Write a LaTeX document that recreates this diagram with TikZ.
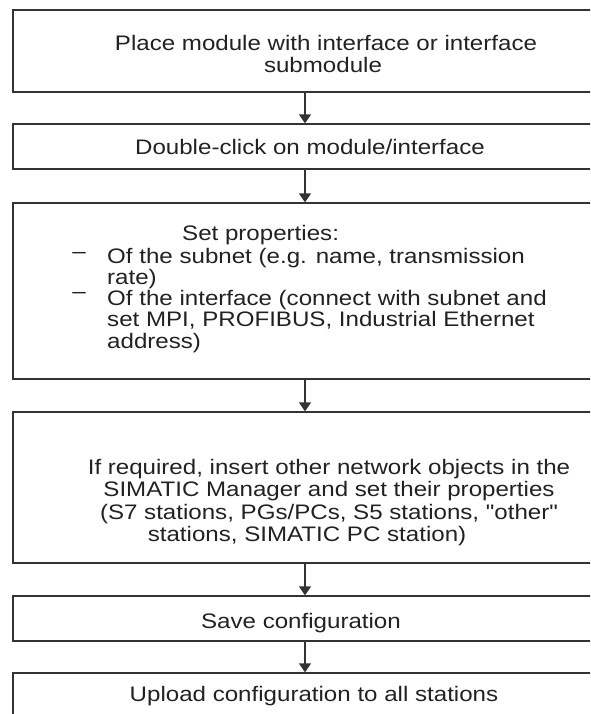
\documentclass[tikz,border=0pt]{standalone}
\usepackage{fontspec}
\setmainfont{Liberation Sans}[Ligatures=TeXOff,FakeStretch=1.148]
\usetikzlibrary{arrows.meta}
\definecolor{ink}{HTML}{222222}
\definecolor{frame}{HTML}{333333}
\begin{document}
\begin{tikzpicture}[x=1pt,y=-1pt,
  box/.style={draw=frame,line width=1.3pt,rectangle,inner sep=0pt,minimum width=590pt},
  txt/.style={inner sep=0pt,text=ink,font=\fontsize{21}{22}\selectfont,anchor=base},
  ltxt/.style={txt,anchor=base west},
  flow/.style={draw=frame,line width=1.4pt,-{Triangle[width=12pt,length=9pt]}}]
\useasboundingbox (0,0) rectangle (590,714);
\clip (0,0) rectangle (590,714);
\fill[white] (0,0) rectangle (590,714);
\coordinate (ax) at (305,0);
% boxes
\node[box,minimum height=82pt]  (b1) at (308,51) {};
\node[box,minimum height=45pt]  (b2) at (308,146.5) {};
\node[box,minimum height=176pt] (b3) at (308,291) {};
\node[box,minimum height=151pt] (b4) at (308,487.5) {};
\node[box,minimum height=45pt]  (b5) at (308,618.5) {};
\node[box,minimum height=57pt]  (b6) at (308,701.5) {};
% texts
\node[txt] (t1a) at (326,50.5) {Place module with interface or interface};
\node[txt] (t1b) at (323,73) {submodule};
\node[txt] (t2) at (310,155) {Double-click on module/interface};
\node[ltxt] (t3a) at (182,240.5) {Set properties:};
\node[txt] (d1) at (79,258) {–};
\node[ltxt] (t3b) at (107,263.5) {Of the subnet (e.g. name, transmission};
\node[ltxt] (t3c) at (107,284.5) {rate)};
\node[txt] (d2) at (79,298) {–};
\node[ltxt] (t3d) at (107,305) {Of the interface (connect with subnet and};
\node[ltxt] (t3e) at (107,326.5) {set MPI, PROFIBUS, Industrial Ethernet};
\node[ltxt] (t3f) at (107,348) {address)};
\node[txt] (t4a) at (329,474) {If required, insert other network objects in the};
\node[txt] (t4b) at (329,496) {SIMATIC Manager and set their properties};
\node[txt] (t4c) at (329,519) {(S7 stations, PGs/PCs, S5 stations, "other"};
\node[txt] (t4d) at (307,541) {stations, SIMATIC PC station)};
\node[txt] (t5) at (301,628) {Save configuration};
\node[txt] (t6) at (314,701) {Upload configuration to all stations};
% arrows
\draw[flow] (b1.south -| ax) -- (b2.north -| ax);
\draw[flow] (b2.south -| ax) -- (b3.north -| ax);
\draw[flow] (b3.south -| ax) -- (b4.north -| ax);
\draw[flow] (b4.south -| ax) -- (b5.north -| ax);
\draw[flow] (b5.south -| ax) -- (b6.north -| ax);
\end{tikzpicture}
\end{document}
